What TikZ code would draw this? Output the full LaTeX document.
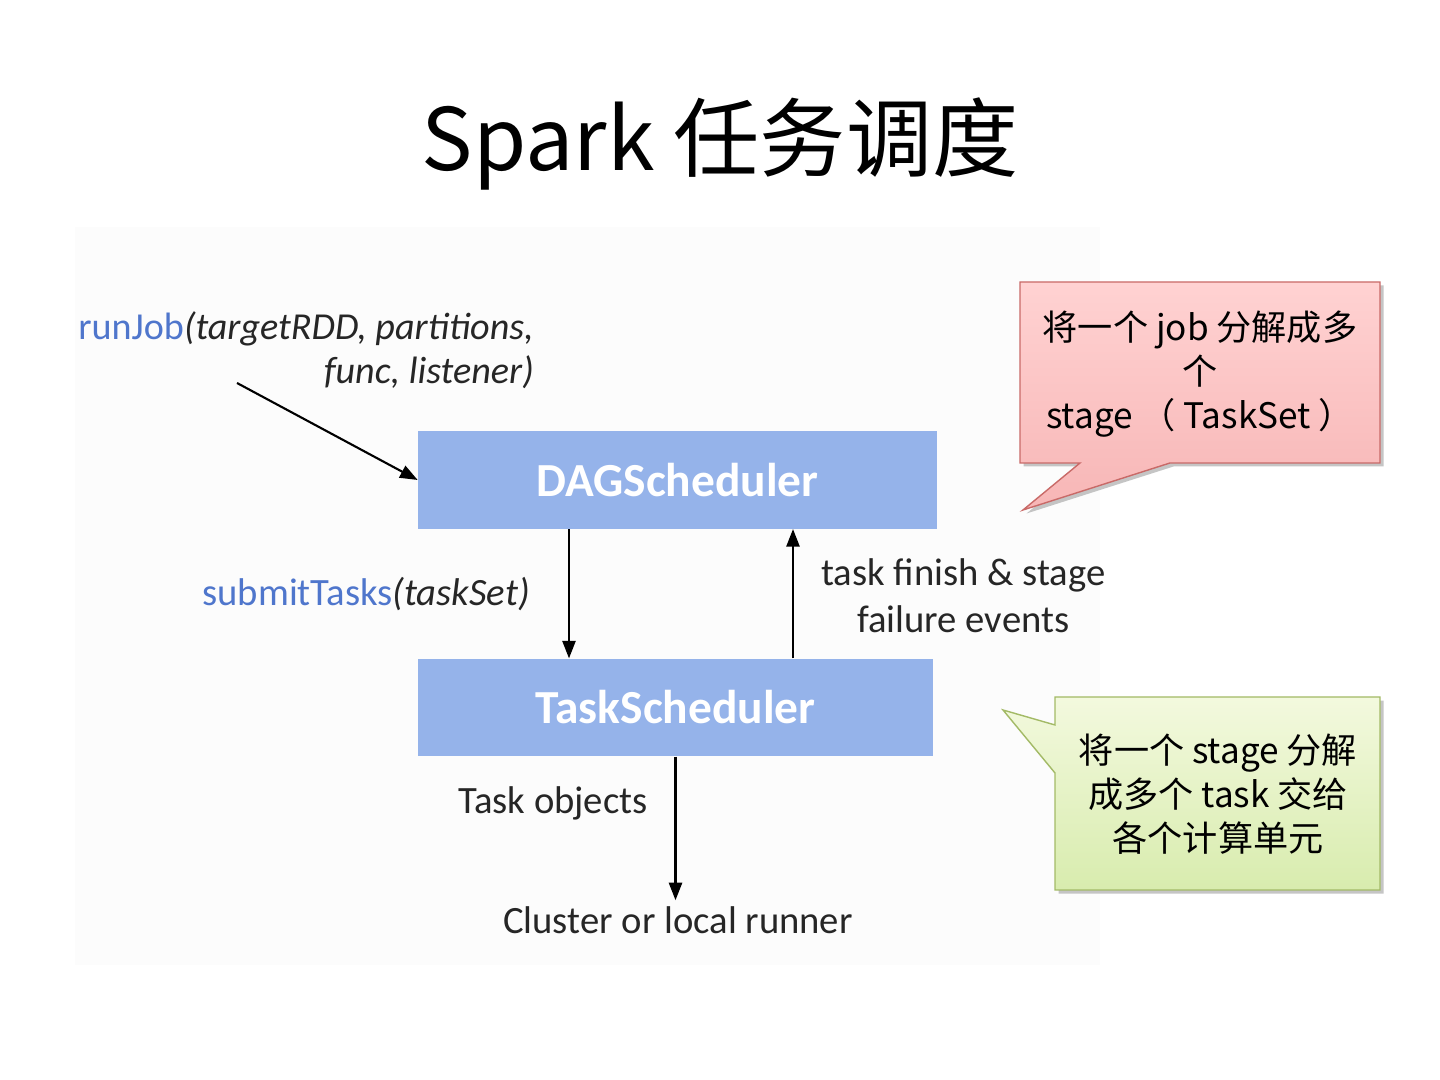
\documentclass[tikz,border=0pt]{standalone}
\usepackage{fontspec}
\setmainfont{Carlito}
\newfontfamily\cjk{Noto Sans CJK SC}
\usetikzlibrary{arrows.meta,shadows}
\definecolor{boxblue}{HTML}{95B3EA}
\definecolor{codeblue}{HTML}{4F76CC}
\definecolor{calloutred}{HTML}{C96A68}
\definecolor{pinktop}{HTML}{FFD2D2}
\definecolor{pinkbot}{HTML}{F7B6B6}
\definecolor{calloutgreen}{HTML}{A3BA66}
\definecolor{greentop}{HTML}{F3F9DE}
\definecolor{greenbot}{HTML}{D8ECAE}

\begin{document}
\begin{tikzpicture}[
  sched/.style={fill=boxblue, minimum width=10.38cm, minimum height=1.95cm,
    text=white, font=\fontsize{27}{32}\selectfont\bfseries},
  lbl/.style={font=\fontsize{22}{25}\selectfont, text=black!85},
  flow/.style={-{Triangle[length=10pt,width=7.5pt]}, line width=1.2pt},
  callout/.style={drop shadow={shadow xshift=2pt,shadow yshift=-2pt,opacity=0.45}},
  note/.style={font=\cjk\fontsize{20}{25}\selectfont, align=center}]
\useasboundingbox (0,0) rectangle (28.8,21.6);
\fill[white] (0,0) rectangle (28.8,21.6);
\fill[black!1] (1.5,2.3) rectangle (22,17.05);

% 标题
\node[font=\cjk\fontsize{49}{60}\selectfont, anchor=base] (title) at (14.4,18.18) {Spark 任务调度};

% 两个调度器
\node[sched] (dag) at (13.55,12.0) {DAGScheduler};
\node[sched, minimum width=10.3cm] (task) at (13.51,7.45) {TaskScheduler};

% 左侧说明与箭头
\node[lbl, align=right, anchor=east, font=\fontsize{21.7}{25}\selectfont] (runjob) at (10.8,14.6)
  {\textcolor{codeblue}{runJob}\textit{(targetRDD, partitions,}\\\textit{func, listener)}};
\coordinate (jobsrc) at (4.74,13.94);
\draw[flow] (jobsrc) -- (dag.west);
\node[lbl, anchor=east] (submit) at (10.72,9.72) {\textcolor{codeblue}{submitTasks}\textit{(taskSet)}};
\draw[flow] (11.38,0 |- dag.south) -- (11.38,0 |- task.north);

% 右侧回传事件
\draw[flow] (15.86,0 |- task.north) -- (15.86,0 |- dag.south);
\node[lbl, align=center, anchor=west, font=\fontsize{22}{26.7}\selectfont] (events) at (16.3,9.69)
  {task finish \& stage\\failure events};

% 下方执行端
\node[lbl] (objects) at (11.06,5.54) {Task objects};
\node[lbl] (runner) at (13.56,3.2) {Cluster or local runner};
\draw[flow] (task.south) -- (task.south |- runner.north);

% 红色标注
\draw[callout, draw=calloutred, line width=0.8pt, top color=pinktop, bottom color=pinkbot]
  (20.4,15.96) -- (27.6,15.96) -- (27.6,12.34) -- (23.4,12.34) -- (20.46,11.4)
  -- (21.6,12.34) -- (20.4,12.34) -- cycle;
\node[note] (jobnote) at (24.0,14.12) {将一个 job 分解成多\\个\\stage （ TaskSet ）};

% 绿色标注
\draw[callout, draw=calloutgreen, line width=0.8pt, top color=greentop, bottom color=greenbot]
  (21.1,7.66) -- (27.6,7.66) -- (27.6,3.8) -- (21.1,3.8) -- (21.1,6.14)
  -- (20.06,7.4) -- (21.1,7.1) -- cycle;
\node[note] (stagenote) at (24.36,5.72) {将一个 stage 分解\\成多个 task 交给\\各个计算单元};
\end{tikzpicture}
\end{document}
